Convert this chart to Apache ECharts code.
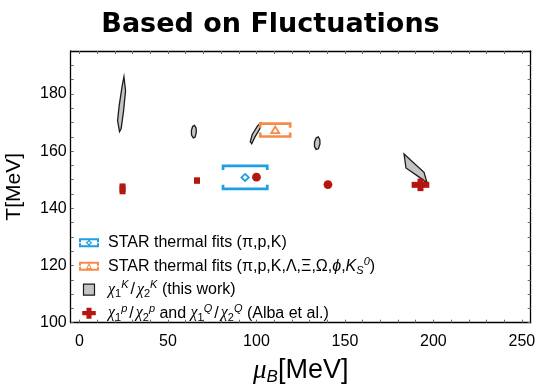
<!DOCTYPE html>
<html><head><meta charset="utf-8">
<script src="https://cdn.jsdelivr.net/npm/echarts@6/dist/echarts.min.js"></script>
<style>html,body{margin:0;padding:0;background:#fff}#c{width:541px;height:384px}</style>
</head><body><div id="c"></div>
<script>
// ---- axis ticks ----
const xLabelValues = [0, 50, 100, 150, 200, 250];
const xTickValues = [0,10,20,30,40,50,60,70,80,90,100,110,120,130,140,150,160,170,180,190,200,210,220,230,240,250];
const yLabelValues = [100, 120, 140, 160, 180];
const yTickValues = [100,105,110,115,120,125,130,135,140,145,150,155,160,165,170,175,180,185,190];

// ---- chi1K/chi2K contours (this work): [muB, T] vertices ----
const kaonContourA = [[25.1,186.0],[26.0,181.1],[24.9,174.1],[23.5,167.8],[22.6,166.8],[21.5,170.6],[22.4,175.9],[24.1,182.8]];
const kaonContourB = [[65.0,169.0],[65.9,168.0],[66.0,166.5],[65.3,164.9],[64.3,164.6],[63.3,165.6],[63.2,167.2],[63.9,168.6]];
const kaonContourC = [[102.4,169.8],[101.9,167.8],[99.0,164.8],[97.3,162.6],[96.5,163.3],[97.6,165.8],[100.7,168.9]];
const kaonContourD = [[134.9,165.0],[135.8,164.0],[135.9,162.5],[135.0,160.8],[133.7,160.6],[132.8,161.6],[132.8,163.2],[133.7,164.6]];
const kaonContourE = [[183.4,159.0],[194.7,152.6],[196.5,148.8],[193.4,150.3],[184.5,154.1]];
const kaonContours = [kaonContourA, kaonContourB, kaonContourC, kaonContourD, kaonContourE];

// ---- STAR thermal fits: [muB, T, muB error, T error] ----
const starPiPK = [93.6, 150.8, 12.5, 4.0];
const starAll = [110.6, 167.35, 8.45, 2.25];

// ---- Alba et al. ----
const albaMuB = [24.3, 66.4, 100.0, 140.4, 192.7];
const albaT = [146.8, 149.7, 150.9, 148.3, 148.2];
const albaMuBErr = [0, 0, 0, 0, 5.0];
const albaTErr = [1.9, 0, 0, 0, 2.2];
const albaMarker = ['bar', 'bar', 'disc', 'disc', 'bar'];

const BLUE = '#1f9fe3', ORANGE = '#f78a48', RED = '#b3170f', GREY = '#c4c4c4';
const N1 = 'STAR thermal fits (π,p,K)';
const N2 = 'STAR thermal fits (π,p,K,Λ,Ξ,Ω,ϕ,KS0)';
const N3 = 'chiK';
const N4 = 'alba';

function starRender(shape, color) {
  return function (params, api) {
    const x = api.value(0), y = api.value(1), ex = api.value(2), ey = api.value(3);
    const tl = api.coord([x - ex, y + ey]);
    const br = api.coord([x + ex, y - ey]);
    const c = api.coord([x, y]);
    const cap = 4;
    const lineStyle = { stroke: color, lineWidth: 2.7, fill: null };
    let marker;
    if (shape === 'diamond') {
      marker = [[c[0], c[1] - 3.5], [c[0] + 3.7, c[1]], [c[0], c[1] + 3.5], [c[0] - 3.7, c[1]]];
    } else {
      marker = [[c[0], c[1] - 3.6], [c[0] + 4, c[1] + 3], [c[0] - 4, c[1] + 3]];
    }
    return {
      type: 'group',
      children: [
        { type: 'polyline', shape: { points: [[tl[0], tl[1] + cap], [tl[0], tl[1]], [br[0], tl[1]], [br[0], tl[1] + cap]] }, style: lineStyle },
        { type: 'polyline', shape: { points: [[tl[0], br[1] - cap], [tl[0], br[1]], [br[0], br[1]], [br[0], br[1] - cap]] }, style: lineStyle },
        { type: 'polygon', shape: { points: marker }, style: { fill: '#fff', stroke: color, lineWidth: 1.8 } }
      ]
    };
  };
}

const chart = echarts.init(document.getElementById('c'), null, { renderer: 'canvas' });

const richBase = {
  n: { fontSize: 16, lineHeight: 20, fontFamily: 'Liberation Sans', color: '#000' },
  it: { fontSize: 16, lineHeight: 20, fontFamily: 'Liberation Serif', fontStyle: 'italic', color: '#000' },
  its: { fontSize: 16, lineHeight: 20, fontFamily: 'Liberation Sans', fontStyle: 'italic', color: '#000' },
  sub: { fontSize: 11, lineHeight: 12, verticalAlign: 'bottom', fontFamily: 'Liberation Sans', color: '#000' },
  subi: { fontSize: 11, lineHeight: 12, verticalAlign: 'bottom', fontFamily: 'Liberation Sans', fontStyle: 'italic', color: '#000' },
  sup: { fontSize: 11, lineHeight: 12, verticalAlign: 'top', fontFamily: 'Liberation Sans', fontStyle: 'italic', color: '#000' },
  pad: { width: 4 },
  sl: { fontSize: 16, lineHeight: 20, fontFamily: 'Liberation Sans', color: '#000', padding: [0, 2, 0, 2] }
};

const legendText = {};
legendText[N1] = '{pad|}{n|STAR thermal fits (π,p,K)}';
legendText[N2] = '{pad|}{n|STAR thermal fits (π,p,K,Λ,Ξ,Ω,}{its|ϕ}{n|,}{its|K}{subi|S}{sup|0}{n|)}';
legendText[N3] = '{pad|}{it|χ}{sub|1}{sup|K}{sl|/}{it|χ}{sub|2}{sup|K}{n| (this work)}';
legendText[N4] = '{pad|}{it|χ}{sub|1}{sup|p}{sl|/}{it|χ}{sub|2}{sup|p}{n| and }{it|χ}{sub|1}{sup|Q}{sl|/}{it|χ}{sub|2}{sup|Q}{n| (Alba et al.)}';

const bracketPath = 'M0,0H20V4H18V2H2V4H0Z M0,5H2V7H18V5H20V9H0Z ';
const iconBlue = 'path://' + bracketPath + 'M10,1.5L13.2,4.5L10,7.5L6.8,4.5Z M10,3.2L8.5,4.5L10,5.8L11.5,4.5Z';
const iconOrange = 'path://' + bracketPath + 'M10,1.4L13,7.2L7,7.2Z M10,3.6L8.6,6.2L11.4,6.2Z';

const option = {
  animation: false,
  backgroundColor: '#fff',
  title: {
    text: 'Based on Fluctuations',
    left: 'center',
    top: 6,
    textStyle: { fontFamily: 'DejaVu Sans', fontWeight: 'bold', fontSize: 27, color: '#000' }
  },
  grid: { left: 70.7, right: 10.3, top: 51, bottom: 61.3, containLabel: false, outerBoundsMode: 'none' },
  legend: {
    orient: 'vertical',
    left: 79,
    top: 232.7,
    padding: 0,
    itemWidth: 20,
    itemHeight: 11,
    itemGap: 3.5,
    textStyle: { rich: richBase, fontSize: 16, lineHeight: 20 },
    formatter: function (name) { return legendText[name]; },
    data: [
      { name: N1, icon: iconBlue, itemStyle: { color: BLUE } },
      { name: N2, icon: iconOrange, itemStyle: { color: ORANGE } },
      { name: N3, icon: 'path://M0,0H10V10H0Z', itemStyle: { color: GREY, borderColor: '#1a1a1a', borderWidth: 1.2 } },
      { name: N4, icon: 'path://M5,0H11V4H16V9H11V13H5V9H0V4H5Z', itemStyle: { color: RED } }
    ],
    selectedMode: false
  },
  xAxis: [
    {
      type: 'value', min: -5, max: 255, position: 'bottom',
      splitLine: { show: false },
      axisLine: { show: true, onZero: false, lineStyle: { color: '#000', width: 1.3 } },
      axisTick: { show: true, inside: true, length: 3, customValues: xTickValues, lineStyle: { color: '#666' } },
      axisLabel: { show: true, customValues: xLabelValues, margin: 11, fontSize: 16, fontFamily: 'Liberation Sans', color: '#000' },
      name: '{it|μ}{sub|B}{n|[MeV]}',
      nameLocation: 'middle',
      nameGap: 33,
      nameTextStyle: {
        rich: {
          it: { fontSize: 27, fontFamily: 'Liberation Serif', fontStyle: 'italic', color: '#000', lineHeight: 30 },
          sub: { fontSize: 17, fontFamily: 'Liberation Sans', fontStyle: 'italic', color: '#000', verticalAlign: 'bottom', lineHeight: 17 },
          n: { fontSize: 27, fontFamily: 'Liberation Sans', color: '#000', lineHeight: 30 }
        }
      }
    },
    {
      type: 'value', min: -5, max: 255, position: 'top',
      splitLine: { show: false },
      axisLine: { show: true, onZero: false, lineStyle: { color: '#000', width: 1.3 } },
      axisTick: { show: true, inside: true, length: 3, customValues: xTickValues, lineStyle: { color: '#666' } },
      axisLabel: { show: false }
    }
  ],
  yAxis: [
    {
      type: 'value', min: 100, max: 195, position: 'left',
      splitLine: { show: false },
      axisLine: { show: true, onZero: false, lineStyle: { color: '#000', width: 1.3 } },
      axisTick: { show: true, inside: true, length: 3, customValues: yTickValues, lineStyle: { color: '#666' } },
      axisLabel: { show: true, customValues: yLabelValues, margin: 4, fontSize: 16, fontFamily: 'Liberation Sans', color: '#000' },
      name: 'T[MeV]',
      nameLocation: 'middle',
      nameGap: 46,
      nameTextStyle: { fontSize: 21, fontFamily: 'Liberation Sans', color: '#000' }
    },
    {
      type: 'value', min: 100, max: 195, position: 'right',
      splitLine: { show: false },
      axisLine: { show: true, onZero: false, lineStyle: { color: '#000', width: 1.3 } },
      axisTick: { show: true, inside: true, length: 3, customValues: yTickValues, lineStyle: { color: '#666' } },
      axisLabel: { show: false }
    }
  ],
  series: [
    {
      name: N3, type: 'custom', xAxisIndex: 0, yAxisIndex: 0,
      itemStyle: { color: GREY, borderColor: '#1a1a1a' },
      data: kaonContours.map((c, i) => [c[0][0], c[0][1], i]),
      renderItem: function (params, api) {
        const pts = kaonContours[params.dataIndex].map(p => api.coord(p));
        return { type: 'polygon', shape: { points: pts }, style: { fill: GREY, stroke: '#1a1a1a', lineWidth: 1.3 } };
      }
    },
    {
      name: N1, type: 'custom', itemStyle: { color: BLUE },
      data: [starPiPK],
      renderItem: starRender('diamond', BLUE)
    },
    {
      name: N2, type: 'custom', itemStyle: { color: ORANGE },
      data: [starAll],
      renderItem: starRender('triangle', ORANGE)
    },
    {
      name: N4, type: 'custom', itemStyle: { color: RED },
      data: albaMuB.map((x, i) => [x, albaT[i], albaMuBErr[i], albaTErr[i], i]),
      renderItem: function (params, api) {
        const x = api.value(0), y = api.value(1), ex = api.value(2), ey = api.value(3);
        const c = api.coord([x, y]);
        const hx = api.coord([x + ex, y])[0] - c[0];
        const hy = c[1] - api.coord([x, y + ey])[1];
        const T = 6;
        const style = { fill: RED };
        if (albaMarker[params.dataIndex] === 'disc') {
          return { type: 'circle', shape: { cx: c[0], cy: c[1], r: 4.4 }, style: style };
        }
        const w = Math.max(hx, T / 2), h = Math.max(hy, T / 2);
        return {
          type: 'group',
          children: [
            { type: 'rect', shape: { x: c[0] - w, y: c[1] - T / 2, width: 2 * w, height: T }, style: style },
            { type: 'rect', shape: { x: c[0] - T / 2, y: c[1] - h, width: T, height: 2 * h }, style: style }
          ]
        };
      }
    }
  ]
};
chart.setOption(option);
</script>
</body></html>
